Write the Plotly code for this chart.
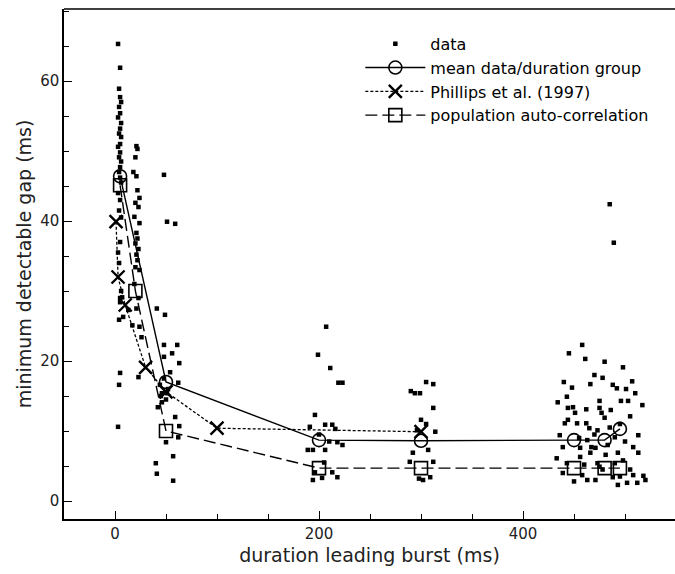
import plotly.graph_objects as go

# ---- data ----
data_x = [
    # ~5 ms group
    3, 5, 4, 5, 6, 4, 5, 3, 6, 5, 4, 6, 5, 3, 5, 4, 6, 5, 4, 5, 6, 3, 5, 4, 6, 5, 3, 4, 6, 5, 4, 5, 4, 3,
    # ~12 ms
    7, 5, 13, 8,
    # ~20 ms group
    21, 22, 20, 18, 21, 22, 24, 20, 23, 19, 24, 21, 22, 20, 23, 21, 22, 20, 24, 19, 23, 21, 17, 24, 26, 23,
    # ~50 ms group
    41, 49, 48, 61, 56, 63, 48, 54, 62, 44, 42, 59, 63, 62, 50, 57, 40, 41, 57, 46, 51, 46, 48, 51, 59, 48, 52, 45, 50,
    # ~200 ms group
    196, 191, 206, 213, 216, 189, 194, 218, 223, 196, 194, 203, 213, 218, 206, 207, 199, 219, 211, 223, 200, 210, 205,
    # ~300 ms group
    294, 299, 312, 296, 314, 292, 289, 312, 302, 309, 298, 307, 290, 305, 300, 305, 312,
    # ~450-500 ms groups
    485, 489, 445, 458, 461, 480, 498, 478, 466, 488, 492, 507, 501, 510, 434, 443, 444, 449, 462, 475,
    496, 503, 517, 505, 475, 477, 480, 444, 441, 453, 462, 465, 473, 436, 463, 490, 513, 439, 433, 471,
    481, 493, 508, 513, 443, 439, 458, 463, 471, 475, 473, 490, 488, 493, 502, 512, 518, 508, 456, 466,
    467, 456, 451, 455, 470, 485, 495, 500, 483, 478, 498, 505, 450, 448, 470, 440, 486, 460, 495, 520,
]
data_y = [
    65.3, 61.9, 58.9, 57.7, 57.0, 56.3, 55.4, 54.8, 54.0, 53.2, 52.5, 52.0, 51.0, 50.6, 49.8, 49.1, 48.5, 47.7,
    47.0, 46.2, 45.5, 44.0, 43.0, 41.5, 40.5, 37.0, 35.5, 34.0, 30.0, 29.0, 25.9, 18.3, 16.6, 10.6,
    29.1, 28.4, 27.3, 26.3,
    50.7, 50.3, 49.1, 47.0, 46.4, 44.4, 43.3, 42.6, 42.0, 40.6, 39.7, 38.3, 37.5, 36.8, 36.0, 35.2, 34.4, 33.4,
    33.0, 31.0, 29.0, 27.5, 25.1, 24.9, 23.4, 17.7,
    27.5, 26.6, 22.3, 22.3, 21.1, 19.7, 20.6, 18.4, 16.9, 16.6, 13.4, 12.0, 10.7, 9.1, 8.4, 6.4, 5.4, 3.9, 2.9,
    14.1, 15.4, 15.4, 46.6, 39.9, 39.6, 17.5, 16.0, 15.0, 14.5,
    12.3, 10.6, 10.9, 10.9, 10.3, 7.3, 7.3, 8.4, 8.0, 4.1, 3.0, 3.3, 4.1, 3.4, 7.3, 24.9, 20.9, 16.9, 19.0, 16.9,
    9.5, 8.5, 5.5,
    15.4, 15.4, 13.3, 10.1, 9.9, 6.9, 5.6, 5.6, 3.0, 3.4, 3.2, 7.3, 15.7, 17.0, 11.6, 11.0, 16.7,
    42.4, 36.9, 21.1, 22.3, 20.3, 19.9, 19.1, 17.6, 16.7, 16.6, 16.1, 17.1, 16.0, 15.4, 14.1, 14.9, 13.3, 13.4,
    13.1, 14.3, 14.3, 14.3, 13.7, 12.1, 13.3, 12.6, 11.9, 11.6, 11.1, 11.1, 11.1, 10.4, 10.1, 9.4, 8.7, 9.1,
    9.4, 7.7, 6.1, 7.6, 6.6, 6.9, 7.7, 6.9, 5.4, 4.0, 3.7, 3.0, 3.0, 4.9, 5.4, 5.4, 3.4, 2.3, 2.6, 2.6, 3.6,
    3.7, 6.3, 6.9, 7.7, 7.6, 12.6, 9.0, 9.5, 10.5, 11.0, 8.5, 8.0, 4.5, 5.8, 4.5, 2.8, 16.2, 18.0, 17.0, 13.0,
    5.2, 3.5, 3.0,
]

mean_x = [5, 50, 200, 300, 450, 480, 495]
mean_y = [46.4, 17.0, 8.7, 8.6, 8.7, 8.7, 10.3]

phillips_x = [1, 3, 10, 30, 50, 100, 300]
phillips_y = [39.9, 32.0, 28.0, 19.1, 15.6, 10.4, 9.9]

auto_x = [5, 20, 50, 200, 300, 450, 480, 495]
auto_y = [45.1, 30.0, 10.0, 4.7, 4.7, 4.7, 4.7, 4.7]

x_ticks = [0, 200, 400]
y_ticks = [0, 20, 40, 60]

FONT = "DejaVu Sans, Liberation Sans, sans-serif"

fig = go.Figure()
fig.add_trace(go.Scatter(
    x=data_x, y=data_y, mode="markers", name="data",
    marker=dict(symbol="square", size=4.5, color="black"),
))
fig.add_trace(go.Scatter(
    x=mean_x, y=mean_y, mode="lines+markers", name="mean data/duration group",
    line=dict(color="black", width=1.4),
    marker=dict(symbol="circle-open", size=13, color="black", line=dict(width=1.6)),
))
fig.add_trace(go.Scatter(
    x=phillips_x, y=phillips_y, mode="lines+markers", name="Phillips et al. (1997)",
    line=dict(color="black", width=1.3, dash="3px,2px"),
    marker=dict(symbol="x-thin-open", size=13, color="black", line=dict(width=2.4, color="black")),
))
fig.add_trace(go.Scatter(
    x=auto_x, y=auto_y, mode="lines+markers", name="population auto-correlation",
    line=dict(color="black", width=1.4, dash="12px,5px"),
    marker=dict(symbol="square-open", size=13, color="black", line=dict(width=1.6)),
))

fig.update_layout(
    width=675, height=574,
    margin=dict(l=64, r=0, t=9, b=55),
    paper_bgcolor="white", plot_bgcolor="white",
    font=dict(family=FONT, size=15, color="#222"),
    showlegend=True,
    legend=dict(
        x=0.485, y=0.965, xanchor="left", yanchor="top",
        bgcolor="rgba(0,0,0,0)", itemwidth=60,
        font=dict(family=FONT, size=16, color="black"),
        tracegroupgap=0, itemsizing="trace",
    ),
    shapes=[dict(type="line", xref="paper", yref="paper", x0=0, x1=1, y0=1, y1=1,
                 line=dict(color="black", width=1.5))],
)
fig.update_xaxes(
    range=[-50, 549], showgrid=False, zeroline=False,
    showline=True, linecolor="black", linewidth=1.5,
    tickmode="array", tickvals=x_ticks, ticktext=[str(v) for v in x_ticks],
    ticks="inside", ticklen=8, tickwidth=1.2, tickcolor="black",
    minor=dict(dtick=50, tick0=0, ticks="inside", ticklen=5, tickwidth=1, tickcolor="black", showgrid=False),
    tickfont=dict(size=15, color="#222"),
    title=dict(text="duration leading burst (ms)", font=dict(size=19, color="#222"), standoff=7),
)
fig.update_yaxes(
    range=[-2.57, 70.29], showgrid=False, zeroline=False,
    showline=True, linecolor="black", linewidth=1.5,
    tickmode="array", tickvals=y_ticks, ticktext=[str(v) for v in y_ticks],
    ticks="inside", ticklen=8, tickwidth=1.2, tickcolor="black",
    minor=dict(dtick=5, tick0=0, ticks="inside", ticklen=5, tickwidth=1, tickcolor="black", showgrid=False),
    tickfont=dict(size=15, color="#222"),
    title=dict(text="minimum detectable gap (ms)", font=dict(size=19, color="#222"), standoff=4),
)

fig.write_html("out.html")
